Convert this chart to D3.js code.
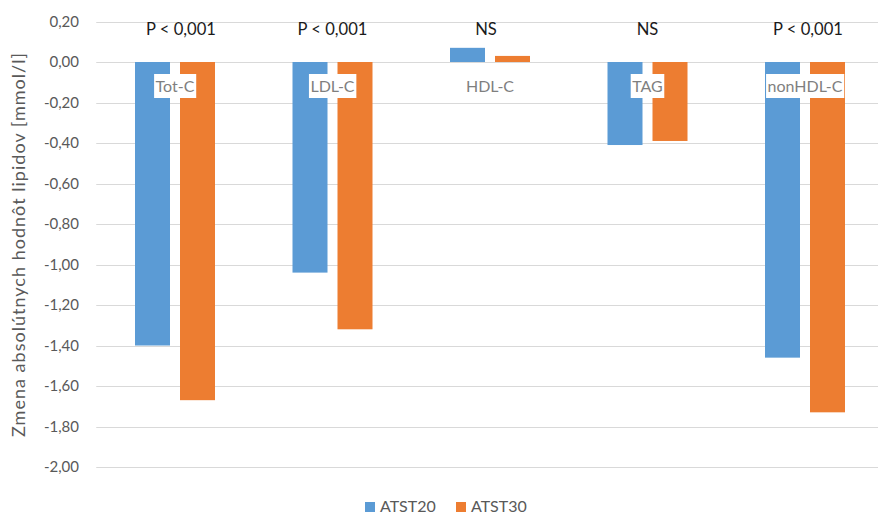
<!DOCTYPE html>
<html>
<head>
<meta charset="utf-8">
<script src="https://cdn.jsdelivr.net/npm/d3@7"></script>
<style>
  html, body { margin: 0; padding: 0; background: #fff; }
  svg { display: block; font-family: Lato, "Open Sans", sans-serif; }
</style>
</head>
<body>
<svg id="chart" width="878" height="515"></svg>
<script>
// Lipid change per parameter for the two dosing groups
const categories = ["Tot-C", "LDL-C", "HDL-C", "TAG", "nonHDL-C"];
const seriesNames = ["ATST20", "ATST30"];
const atst20 = [-1.40, -1.04, 0.07, -0.41, -1.46];
const atst30 = [-1.67, -1.32, 0.03, -0.39, -1.73];
const pLabels = ["P < 0,001", "P < 0,001", "NS", "NS", "P < 0,001"];
const yTicks = [0.2, 0, -0.2, -0.4, -0.6, -0.8, -1.0, -1.2, -1.4, -1.6, -1.8, -2.0];
const colors = ["#5B9BD5", "#ED7D31"];

// layout
const svg = d3.select("#chart");
const plot = { left: 96.25, right: 883.75, top: 21.5, bottom: 467 };
const barW = 35, barGap = 10;
const pLabelShift = [6, 0, -4, 0, 3]; // hand-placed nudges of the significance boxes

const x = d3.scaleBand().domain(categories).range([plot.left, plot.right]).padding(0);
const y = d3.scaleLinear().domain([-2.0, 0.2]).range([plot.bottom, plot.top]);

// horizontal gridlines
svg.append("g").selectAll("line").data(yTicks).join("line")
  .attr("x1", plot.left).attr("x2", plot.right)
  .attr("y1", d => Math.round(y(d)) + 0.5).attr("y2", d => Math.round(y(d)) + 0.5)
  .attr("stroke", "#d9d9d9").attr("stroke-width", 1);

// y axis labels
const fmt = d => d3.format(".2f")(d).replace(".", ",").replace("−", "-");
const yAxis = d3.axisLeft(y).tickValues(yTicks).tickSize(0).tickPadding(0).tickFormat(fmt);
const ya = svg.append("g").attr("transform", "translate(79,0)").call(yAxis);
ya.select(".domain").remove();
ya.selectAll("text").attr("fill", "#595959").style("font-size", "15px")
  .style("font-family", "Lato, 'Open Sans', sans-serif");

// bars
const series = [atst20, atst30];
series.forEach((vals, si) => {
  svg.append("g").selectAll("rect").data(categories).join("rect")
    .attr("x", d => x(d) + x.bandwidth() / 2 - barW - barGap / 2 + si * (barW + barGap))
    .attr("width", barW)
    .attr("y", (d, i) => y(Math.max(0, vals[i])))
    .attr("height", (d, i) => Math.abs(y(vals[i]) - y(0)))
    .attr("fill", colors[si]);
});

// category labels on white boxes at the zero line
const catG = svg.append("g").selectAll("g").data(categories).join("g")
  .attr("transform", d => `translate(${x(d) + x.bandwidth() / 2},86)`);
catG.each(function(d) {
  const g = d3.select(this);
  const t = g.append("text").text(d)
    .attr("text-anchor", "middle").attr("dy", "0.35em")
    .attr("fill", "#7f7f7f").style("font-size", "16px");
  const bb = t.node().getBBox();
  g.insert("rect", "text")
    .attr("x", bb.x - 1.5).attr("y", -12).attr("width", bb.width + 3).attr("height", 24)
    .attr("fill", "#fff");
});

// significance labels
svg.append("g").selectAll("text").data(categories).join("text")
  .attr("x", (d, i) => x(d) + x.bandwidth() / 2 + pLabelShift[i]).attr("y", 29)
  .attr("dy", "0.35em").attr("text-anchor", "middle")
  .attr("fill", "#1a1a1a").style("font-size", "16.6px")
  .text((d, i) => pLabels[i]);

// y axis title
svg.append("text")
  .attr("transform", "translate(19,245) rotate(-90)")
  .attr("text-anchor", "middle").attr("dy", "0.35em")
  .attr("fill", "#595959").style("font-size", "18px")
  .attr("textLength", 384).attr("lengthAdjust", "spacing")
  .text("Zmena absolútnych hodnôt lipidov [mmol/l]");

// legend
const legend = svg.append("g");
const legX = [365, 456];
seriesNames.forEach((s, i) => {
  legend.append("rect").attr("x", legX[i]).attr("y", 502).attr("width", 10).attr("height", 10)
    .attr("fill", colors[i]);
  legend.append("text").attr("x", legX[i] + 15).attr("y", 506).attr("dy", "0.35em")
    .attr("fill", "#595959").style("font-size", "16px").text(s);
});
</script>
</body>
</html>
